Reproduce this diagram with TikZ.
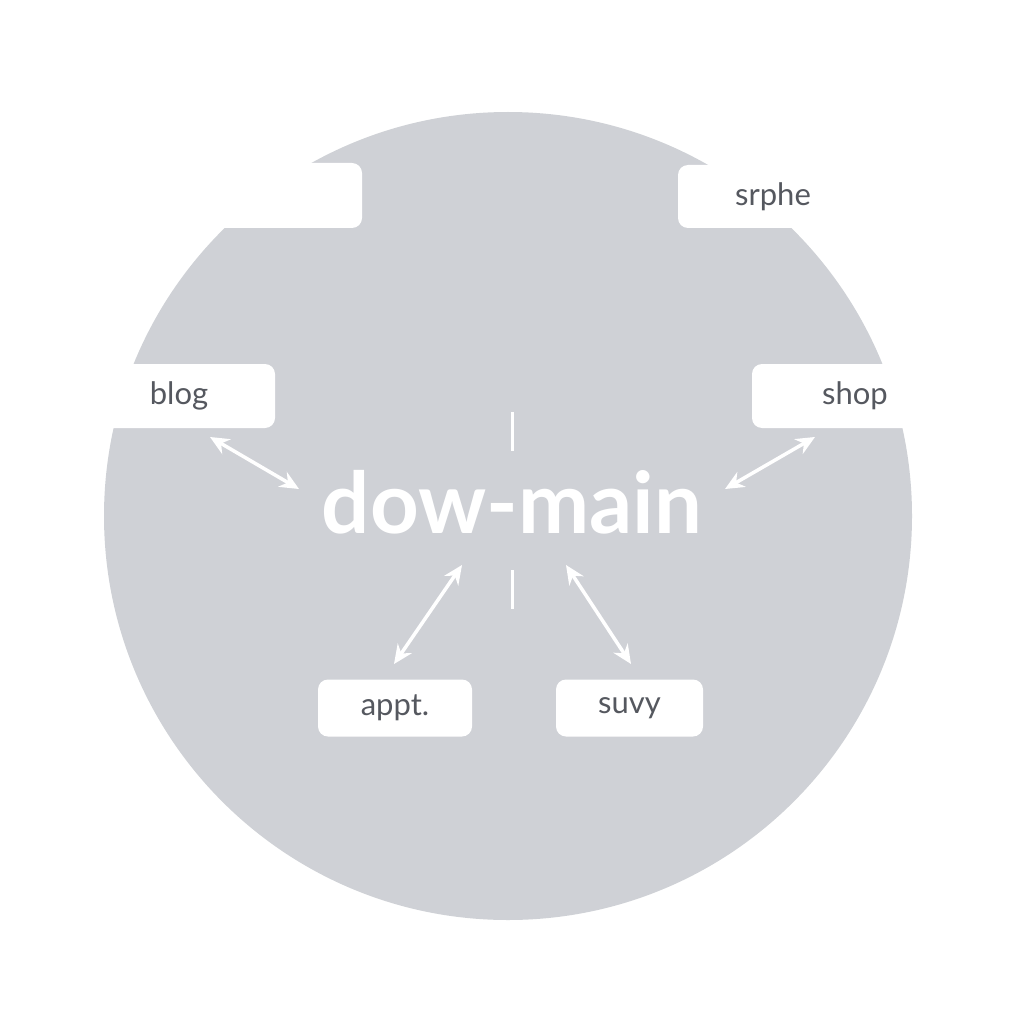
\documentclass[tikz,border=0pt]{standalone}
\usepackage{fontspec}
\setmainfont{Lato}
\usetikzlibrary{arrows.meta}

\definecolor{disc}{HTML}{CFD1D6}
\definecolor{ink}{HTML}{55585F}

\tikzset{
    tab/.style={fill=white, rounded corners=10pt, inner sep=0pt,
        text=ink, font=\fontsize{31}{31}\selectfont},
    hub/.style={text=white, inner sep=0pt,
        font=\fontsize{85}{85}\selectfont\bfseries},
    link/.style={white, line width=3.5pt,
        {Stealth[length=19pt,width=17pt]}-{Stealth[length=19pt,width=17pt]}},
    tick/.style={white, line width=3pt}
}

\begin{document}
\begin{tikzpicture}[x=1pt, y=-1pt]
        % 画布与底盘
        \useasboundingbox (0,0) rectangle (1024,1024);
        \fill[white] (0,0) rectangle (1024,1024);
        \fill[disc] (508,516) circle (404);

        % 标签框(一部分伸出圆外)
        \node[tab, minimum width=180pt, minimum height=65pt] (blank) at (272,195.5) {};
        \node[tab, minimum width=190pt, minimum height=63pt] (srphe) at (773,196.5) {srphe};
        \node[tab, minimum width=192pt, minimum height=64pt] (blog) at (179,396) {blog};
        \node[tab, minimum width=206pt, minimum height=64pt] (shop) at (855,396) {shop};
        \node[tab, minimum width=154pt, minimum height=57pt] (appt) at (395,708) {appt.};
        \node[tab, minimum width=147pt, minimum height=57pt] (suvy) at (629.5,708) {suvy};

        % 中心文字
        \node[hub, anchor=base] (hub) at (512,533) {dow-main};

        % 箭头端点
        \coordinate (blogA) at (210,437);
        \coordinate (blogB) at (299,489);
        \coordinate (shopA) at (815,437);
        \coordinate (shopB) at (725,489);
        \coordinate (apptA) at (394,664);
        \coordinate (apptB) at (462,565);
        \coordinate (suvyA) at (631,664);
        \coordinate (suvyB) at (566,565);
        \coordinate (tickA) at (512,412);
        \coordinate (tickB) at (512,451);
        \coordinate (tickC) at (512,570);
        \coordinate (tickD) at (512,609);

        \draw[link] (blogA) -- (blogB);
        \draw[link] (shopA) -- (shopB);
        \draw[link] (apptA) -- (apptB);
        \draw[link] (suvyA) -- (suvyB);
        \draw[tick] (tickA) -- (tickB);
        \draw[tick] (tickC) -- (tickD);
    \end{tikzpicture}
\end{document}
